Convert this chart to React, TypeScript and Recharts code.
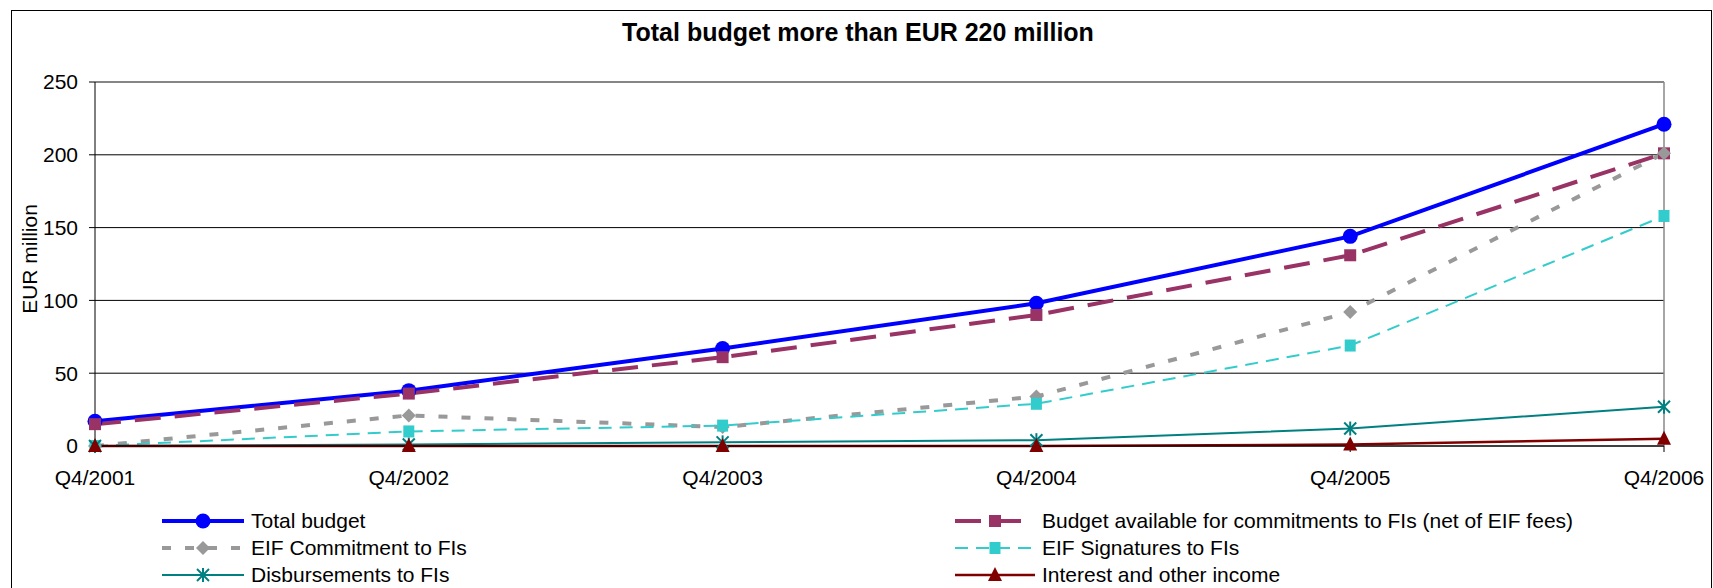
import React from "react";
import { LineChart, Line, XAxis, YAxis, CartesianGrid, ReferenceLine } from "recharts";

// values, EUR million
const quarters = ["Q4/2001", "Q4/2002", "Q4/2003", "Q4/2004", "Q4/2005", "Q4/2006"];
const totalBudget = [17, 38, 67, 98, 144, 221];
const budgetAvailable = [15, 36, 61, 90, 131, 201];
const eifCommitment = [0, 21, 13, 34, 92, 201];
const eifSignatures = [0, 10, 14, 29, 69, 158];
const disbursements = [0, 1, 2.5, 4, 12, 27];
const interestIncome = [0, 0, 0, 0, 1, 5];
const yTicks = [0, 50, 100, 150, 200, 250];

const data = quarters.map((q, i) => ({
    quarter: q,
    total: totalBudget[i],
    available: budgetAvailable[i],
    commitment: eifCommitment[i],
    signatures: eifSignatures[i],
    disbursements: disbursements[i],
    interest: interestIncome[i],
}));

const FONT = "'Liberation Sans', Arial, sans-serif";

type Marker = "circle" | "square" | "diamond" | "smallSquare" | "star" | "triangle";

function drawMarker(kind: Marker, cx: number, cy: number, color: string, key?: string) {
    switch (kind) {
        case "circle":
            return <circle key={key} cx={cx} cy={cy} r={7.5} fill={color} />;
        case "square":
            return <rect key={key} x={cx - 6} y={cy - 6} width={12} height={12} fill={color} />;
        case "smallSquare":
            return <rect key={key} x={cx - 5.5} y={cy - 6} width={11} height={12} fill={color} />;
        case "diamond":
            return <polygon key={key} points={`${cx},${cy - 7} ${cx + 7},${cy} ${cx},${cy + 7} ${cx - 7},${cy}`} fill={color} />;
        case "triangle":
            return <polygon key={key} points={`${cx},${cy - 8} ${cx + 7},${cy + 6} ${cx - 7},${cy + 6}`} fill={color} />;
        case "star":
            return (
                <g key={key} stroke={color} strokeWidth={2}>
                    <line x1={cx - 6} y1={cy - 6} x2={cx + 6} y2={cy + 6} />
                    <line x1={cx - 6} y1={cy + 6} x2={cx + 6} y2={cy - 6} />
                    <line x1={cx} y1={cy - 7} x2={cx} y2={cy + 7} />
                </g>
            );
    }
}

type Series = {
    key: string;
    name: string;
    color: string;
    width: number;
    dash?: string;
    marker: Marker;
};

const series: Series[] = [
    { key: "total", name: "Total budget", color: "#0000FF", width: 4, marker: "circle" },
    { key: "available", name: "Budget available for commitments to FIs (net of EIF fees)", color: "#993366", width: 4, dash: "26 14", marker: "square" },
    { key: "commitment", name: "EIF Commitment to FIs", color: "#999999", width: 4, dash: "9 14", marker: "diamond" },
    { key: "signatures", name: "EIF Signatures to FIs", color: "#33CCCC", width: 2, dash: "13 8", marker: "smallSquare" },
    { key: "disbursements", name: "Disbursements to FIs", color: "#008080", width: 2, marker: "star" },
    { key: "interest", name: "Interest and other income", color: "#800000", width: 2.5, marker: "triangle" },
];

function LegendItem({ s, x, y, iconW }: { s: Series; x: number; y: number; iconW: number }) {
    return (
        <div style={{ position: "absolute", left: x, top: y - 13, height: 26, display: "flex", alignItems: "center" }}>
            <svg width={iconW} height={22} style={{ display: "block" }}>
                <line x1={0} y1={11} x2={iconW} y2={11} stroke={s.color} strokeWidth={s.width} strokeDasharray={s.dash} />
                {drawMarker(s.marker, iconW / 2, 11, s.color)}
            </svg>
            <span style={{ marginLeft: 7, fontSize: 21, color: "#000", whiteSpace: "nowrap" }}>{s.name}</span>
        </div>
    );
}

export default function App() {
    const rows = [521, 548, 575];
    return (
        <div style={{ position: "absolute", left: 0, top: 0, width: 1713, height: 588, background: "#fff", fontFamily: FONT, overflow: "hidden" }}>
            <div style={{ position: "absolute", left: 11, top: 10, width: 1699, height: 600, border: "1px solid #000" }} />
            <div style={{ position: "absolute", left: 0, width: 1716, top: 18, textAlign: "center", fontSize: 25, fontWeight: "bold", color: "#000" }}>
                Total budget more than EUR 220 million
            </div>
            <div style={{ position: "absolute", left: 0, top: 0 }}>
                <LineChart width={1713} height={588} data={data} margin={{ top: 82, right: 49, left: 11, bottom: 102 }}>
                    <CartesianGrid vertical={false} stroke="#000" strokeWidth={1} />
                    <XAxis
                        dataKey="quarter"
                        interval={0}
                        padding={{ left: 0, right: 0 }}
                        height={40}
                        axisLine={{ stroke: "#000" }}
                        tickLine={{ stroke: "#000" }}
                        tickSize={6}
                        tickMargin={18}
                        tick={{ fill: "#000", fontSize: 21, fontFamily: FONT }}
                    />
                    <YAxis
                        domain={[0, 250]}
                        ticks={yTicks}
                        width={84}
                        axisLine={{ stroke: "#000" }}
                        tickLine={{ stroke: "#000" }}
                        tickSize={6}
                        tickMargin={11}
                        tick={{ fill: "#000", fontSize: 21, fontFamily: FONT }}
                        label={{
                            content: () => (
                                <text x={29} y={259} transform="rotate(-90 29 259)" textAnchor="middle" dominantBaseline="central" fontSize={21} fontFamily={FONT} fill="#000">
                                    EUR million
                                </text>
                            ),
                        }}
                    />
                    <ReferenceLine y={250} stroke="#888" strokeWidth={1.5} />
                    <ReferenceLine x="Q4/2006" stroke="#888" strokeWidth={1.5} />
                    {series.map((s) => (
                        <Line
                            key={s.key}
                            dataKey={s.key}
                            name={s.name}
                            type="linear"
                            stroke={s.color}
                            strokeWidth={s.width}
                            strokeDasharray={s.dash}
                            dot={(p: any) => drawMarker(s.marker, p.cx, p.cy, s.color, `${s.key}-${p.index}`)}
                            activeDot={false}
                            isAnimationActive={false}
                        />
                    ))}
                </LineChart>
            </div>
            {series.map((s, i) => (
                <LegendItem
                    key={s.key}
                    s={s}
                    x={i % 2 === 0 ? 162 : 955}
                    y={rows[Math.floor(i / 2)]}
                    iconW={i % 2 === 0 ? 82 : 80}
                />
            ))}
        </div>
    );
}
